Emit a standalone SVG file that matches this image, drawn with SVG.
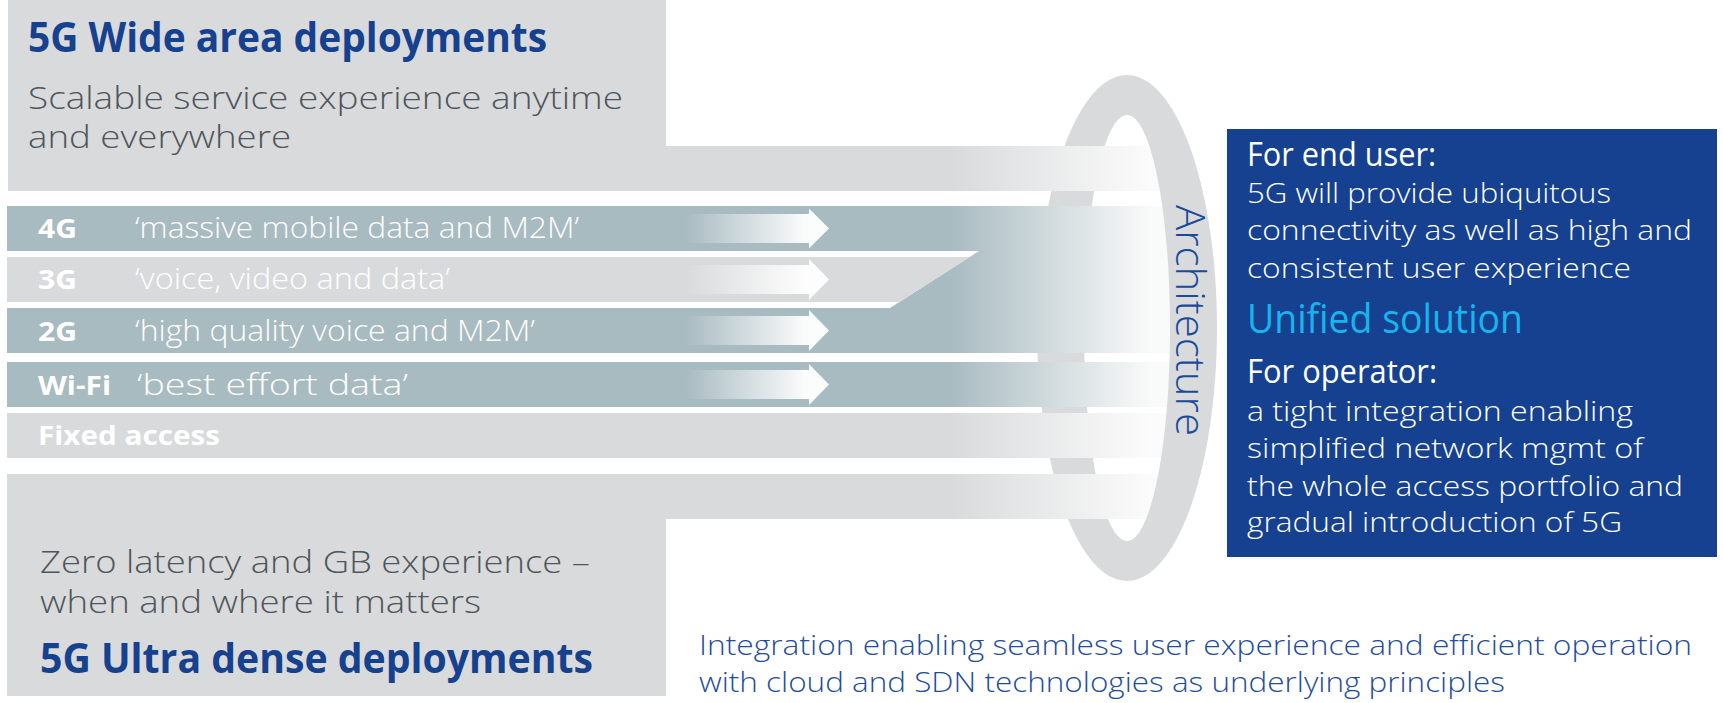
<svg xmlns="http://www.w3.org/2000/svg" width="1723" height="703" viewBox="0 0 1723 703">
<defs>
<style>
.t{font-family:"Open Sans","Liberation Sans",sans-serif}
.title{font-size:42px;font-weight:700;fill:#15418f}
.sub{font-size:32px;font-weight:300;fill:#4f565b}
.lab{font-size:27px;font-weight:700;fill:#ffffff}
.quo{font-size:30px;font-weight:300;fill:#ffffff}
.bh{font-size:33px;font-weight:400;fill:#ffffff}
.bb{font-size:28px;font-weight:300;fill:#ffffff}
.uni{font-size:40px;font-weight:400;fill:#19b4ee}
.foot{font-size:28px;font-weight:300;fill:#1f4d9b}
.arch{font-size:40px;font-weight:300;fill:#1b4a9a}
</style>
<linearGradient id="gGray" gradientUnits="userSpaceOnUse" x1="950" y1="0" x2="1150" y2="0">
<stop offset="0" stop-color="#d9dadc"/><stop offset="1" stop-color="#fbfbfb"/>
</linearGradient>
<linearGradient id="gBlue" gradientUnits="userSpaceOnUse" x1="950" y1="0" x2="1150" y2="0">
<stop offset="0" stop-color="#a8bbc1"/><stop offset="1" stop-color="#f9fafa"/>
</linearGradient>
<linearGradient id="gArrow" gradientUnits="userSpaceOnUse" x1="685" y1="0" x2="805" y2="0">
<stop offset="0" stop-color="#ffffff" stop-opacity="0"/><stop offset="1" stop-color="#ffffff" stop-opacity="0.95"/>
</linearGradient>
<clipPath id="leftHalf"><rect x="0" y="0" width="1127" height="703"/></clipPath>
<clipPath id="rightHalf"><rect x="1127" y="0" width="596" height="703"/></clipPath>
<path id="ringShape" fill-rule="evenodd" d="M1127,75 a90,253 0 1,0 0.01,0 Z M1127,115 a43,213 0 1,0 0.01,0 Z"/>
</defs>
<rect width="1723" height="703" fill="#ffffff"/>

<g id="ring-back">
<use href="#ringShape" fill="#d9dadc" clip-path="url(#leftHalf)"/>
</g>

<g id="wide-area">
<path d="M8,0 H666 V146 H1175 V191 H8 Z" fill="url(#gGray)"/>
<text class="t title" x="28" y="52" textLength="519" lengthAdjust="spacingAndGlyphs">5G Wide area deployments</text>
<text class="t sub" x="28" y="109" textLength="595" lengthAdjust="spacingAndGlyphs">Scalable service experience anytime</text>
<text class="t sub" x="28" y="148" textLength="263" lengthAdjust="spacingAndGlyphs">and everywhere</text>
</g>

<g id="bar-4g">
<rect x="7" y="206" width="1168" height="45" fill="url(#gBlue)"/>
<text class="t lab" x="38" y="238" textLength="39" lengthAdjust="spacingAndGlyphs">4G</text>
<text class="t quo" x="135" y="238" textLength="444" lengthAdjust="spacingAndGlyphs">‘massive mobile data and M2M’</text>
</g>
<g id="bar-merge">
<polygon points="979,251 1175,251 1175,308 890,308" fill="url(#gBlue)"/>
</g>
<g id="bar-3g">
<polygon points="7,257 970,257 899,302 7,302" fill="#d9dadc"/>
<text class="t lab" x="38" y="289" textLength="39" lengthAdjust="spacingAndGlyphs">3G</text>
<text class="t quo" x="135" y="289" textLength="315" lengthAdjust="spacingAndGlyphs">‘voice, video and data’</text>
</g>
<g id="bar-2g">
<rect x="7" y="308" width="1168" height="45" fill="url(#gBlue)"/>
<text class="t lab" x="38" y="341" textLength="39" lengthAdjust="spacingAndGlyphs">2G</text>
<text class="t quo" x="135" y="341" textLength="400" lengthAdjust="spacingAndGlyphs">‘high quality voice and M2M’</text>
</g>
<g id="bar-wifi">
<rect x="7" y="362" width="1168" height="45" fill="url(#gBlue)"/>
<text class="t lab" x="38" y="395" textLength="73" lengthAdjust="spacingAndGlyphs">Wi-Fi</text>
<text class="t quo" x="137" y="395" textLength="271" lengthAdjust="spacingAndGlyphs">‘best effort data’</text>
</g>
<g id="bar-fixed">
<rect x="7" y="413" width="1168" height="45" fill="url(#gGray)"/>
<text class="t lab" x="38" y="445" textLength="182" lengthAdjust="spacingAndGlyphs">Fixed access</text>
</g>

<g id="ultra-dense">
<path d="M7,474 H1175 V519 H666 V696 H7 Z" fill="url(#gGray)"/>
<text class="t sub" x="40" y="573" textLength="550" lengthAdjust="spacingAndGlyphs">Zero latency and GB experience –</text>
<text class="t sub" x="40" y="613" textLength="441" lengthAdjust="spacingAndGlyphs">when and where it matters</text>
<text class="t title" x="40" y="673" textLength="553" lengthAdjust="spacingAndGlyphs">5G Ultra dense deployments</text>
</g>

<g id="connectors" fill="url(#gArrow)">
<path d="M680,214 H809 V208.5 L829,228.5 L809,248.5 V243 H680 Z"/>
<path d="M680,265 H809 V259 L829,279.5 L809,300 V294 H680 Z"/>
<path d="M680,316 H809 V310 L829,330.5 L809,351 V345 H680 Z"/>
<path d="M680,370 H809 V364 L829,384.5 L809,405 V399 H680 Z"/>
</g>

<g id="ring-front">
<use href="#ringShape" fill="#d9dadc" clip-path="url(#rightHalf)"/>
<text class="t arch" transform="translate(1176,205) rotate(90)" x="0" y="0" textLength="231" lengthAdjust="spacingAndGlyphs">Architecture</text>
</g>

<g id="unified-box">
<rect x="1227" y="129" width="490" height="428" fill="#154190"/>
<text class="t bh" x="1247" y="166" textLength="189" lengthAdjust="spacingAndGlyphs">For end user:</text>
<text class="t bb" x="1247" y="203" textLength="364" lengthAdjust="spacingAndGlyphs">5G will provide ubiquitous</text>
<text class="t bb" x="1247" y="240" textLength="445" lengthAdjust="spacingAndGlyphs">connectivity as well as high and</text>
<text class="t bb" x="1247" y="278" textLength="384" lengthAdjust="spacingAndGlyphs">consistent user experience</text>
<text class="t uni" x="1247" y="333" textLength="276" lengthAdjust="spacingAndGlyphs">Unified solution</text>
<text class="t bh" x="1247" y="383" textLength="190" lengthAdjust="spacingAndGlyphs">For operator:</text>
<text class="t bb" x="1247" y="421" textLength="386" lengthAdjust="spacingAndGlyphs">a tight integration enabling</text>
<text class="t bb" x="1247" y="458" textLength="396" lengthAdjust="spacingAndGlyphs">simplified network mgmt of</text>
<text class="t bb" x="1247" y="496" textLength="436" lengthAdjust="spacingAndGlyphs">the whole access portfolio and</text>
<text class="t bb" x="1247" y="532" textLength="375" lengthAdjust="spacingAndGlyphs">gradual introduction of 5G</text>
</g>

<g id="footer">
<text class="t foot" x="699" y="655" textLength="993" lengthAdjust="spacingAndGlyphs">Integration enabling seamless user experience and efficient operation</text>
<text class="t foot" x="699" y="692" textLength="806" lengthAdjust="spacingAndGlyphs">with cloud and SDN technologies as underlying principles</text>
</g>
</svg>
